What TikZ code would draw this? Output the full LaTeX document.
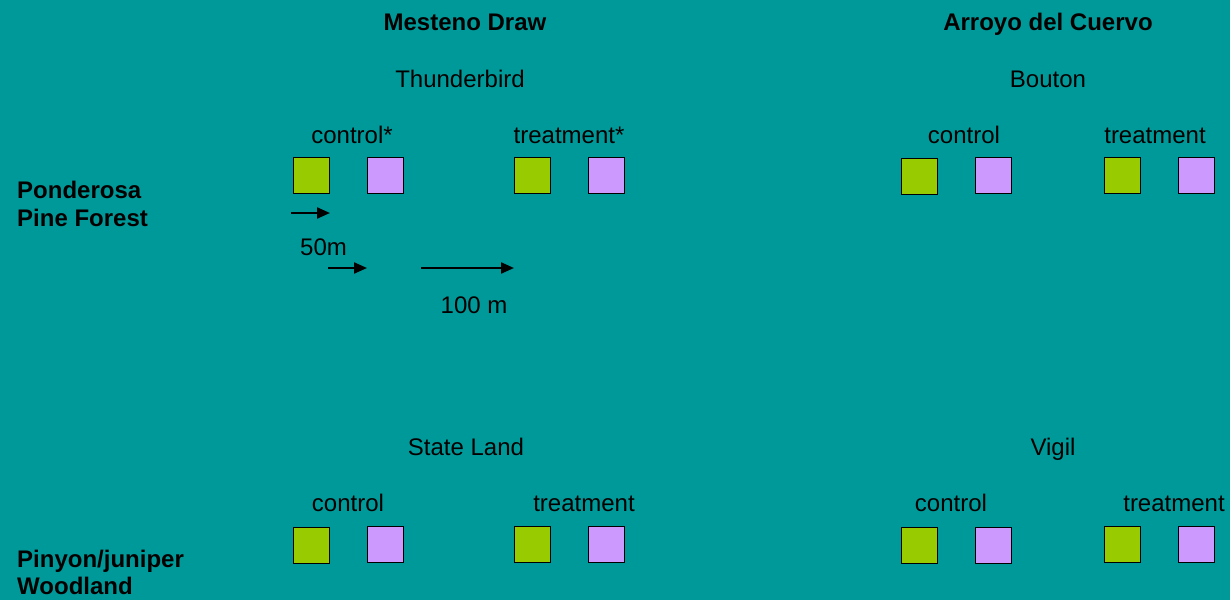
\documentclass[tikz,border=0pt]{standalone}
\usepackage{fontspec}
\setmainfont{Liberation Sans}
\usetikzlibrary{arrows.meta}
\definecolor{bg}{HTML}{009999}
\definecolor{plotgreen}{HTML}{99CC00}
\definecolor{plotpurple}{HTML}{CC99FF}
\tikzset{
  txt/.style={inner sep=0pt, anchor=base, font=\fontsize{24}{28}\selectfont},
  btxt/.style={txt, font=\fontsize{24}{28}\selectfont\bfseries},
  ltxt/.style={btxt, anchor=base west},
  plot/.style={draw=black, line width=1.2pt, minimum size=36pt, inner sep=0pt, anchor=north west},
  gplot/.style={plot, fill=plotgreen},
  pplot/.style={plot, fill=plotpurple},
  arr/.style={line width=2.2pt, -{Triangle[length=13pt,width=11pt]}}
}
\begin{document}
\begin{tikzpicture}[x=1pt,y=-1pt]
\fill[bg] (0,0) rectangle (1230,600);
\useasboundingbox (0,0) rectangle (1230,600);
% headings
\node[btxt] (h1) at (465,30) {Mesteno Draw};
\node[btxt] (h2) at (1048,30) {Arroyo del Cuervo};
\node[txt] (s1) at (460,87) {Thunderbird};
\node[txt] (s2) at (1048,87) {Bouton};
\node[txt] (s3) at (466,455) {State Land};
\node[txt] (s4) at (1053,455) {Vigil};
% row labels
\node[ltxt] (r1a) at (17,198) {Ponderosa};
\node[ltxt] (r1b) at (17,226) {Pine Forest};
\node[ltxt] (r2a) at (17,567) {Pinyon/juniper};
\node[ltxt] (r2b) at (17,594) {Woodland};
% top-left
\node[txt] (c1) at (352,143) {control*};
\node[txt] (t1) at (569,143) {treatment*};
\node[gplot] (g1) at (292.5,156.5) {};
\node[pplot] (p1) at (366.5,156.5) {};
\node[gplot] (g2) at (513.5,156.5) {};
\node[pplot] (p2) at (587.5,156.5) {};
% top-right
\node[txt] (c2) at (964,143) {control};
\node[txt] (t2) at (1155,143) {treatment};
\node[gplot] (g3) at (900.5,157.5) {};
\node[pplot] (p3) at (974.5,156.5) {};
\node[gplot] (g4) at (1103.5,156.5) {};
\node[pplot] (p4) at (1177.5,156.5) {};
% bottom-left
\node[txt] (c3) at (348,511) {control};
\node[txt] (t3) at (584,511) {treatment};
\node[gplot] (g5) at (292.5,526.5) {};
\node[pplot] (p5) at (366.5,525.5) {};
\node[gplot] (g6) at (513.5,525.5) {};
\node[pplot] (p6) at (587.5,525.5) {};
% bottom-right
\node[txt] (c4) at (951,511) {control};
\node[txt] (t4) at (1174,511) {treatment};
\node[gplot] (g7) at (900.5,526.5) {};
\node[pplot] (p7) at (974.5,526.5) {};
\node[gplot] (g8) at (1103.5,525.5) {};
\node[pplot] (p8) at (1177.5,525.5) {};
% scale arrows
\coordinate (a1s) at (291,213);
\coordinate (a1e) at (330,213);
\coordinate (a2s) at (328,268);
\coordinate (a2e) at (367,268);
\coordinate (a3s) at (421,268);
\coordinate (a3e) at (514,268);
\draw[arr] (a1s) -- (a1e);
\draw[arr] (a2s) -- (a2e);
\draw[arr] (a3s) -- (a3e);
\node[txt, anchor=base west] (l50) at (300,255) {50m};
\node[txt] (l100) at (474,313) {100 m};
\end{tikzpicture}
\end{document}
